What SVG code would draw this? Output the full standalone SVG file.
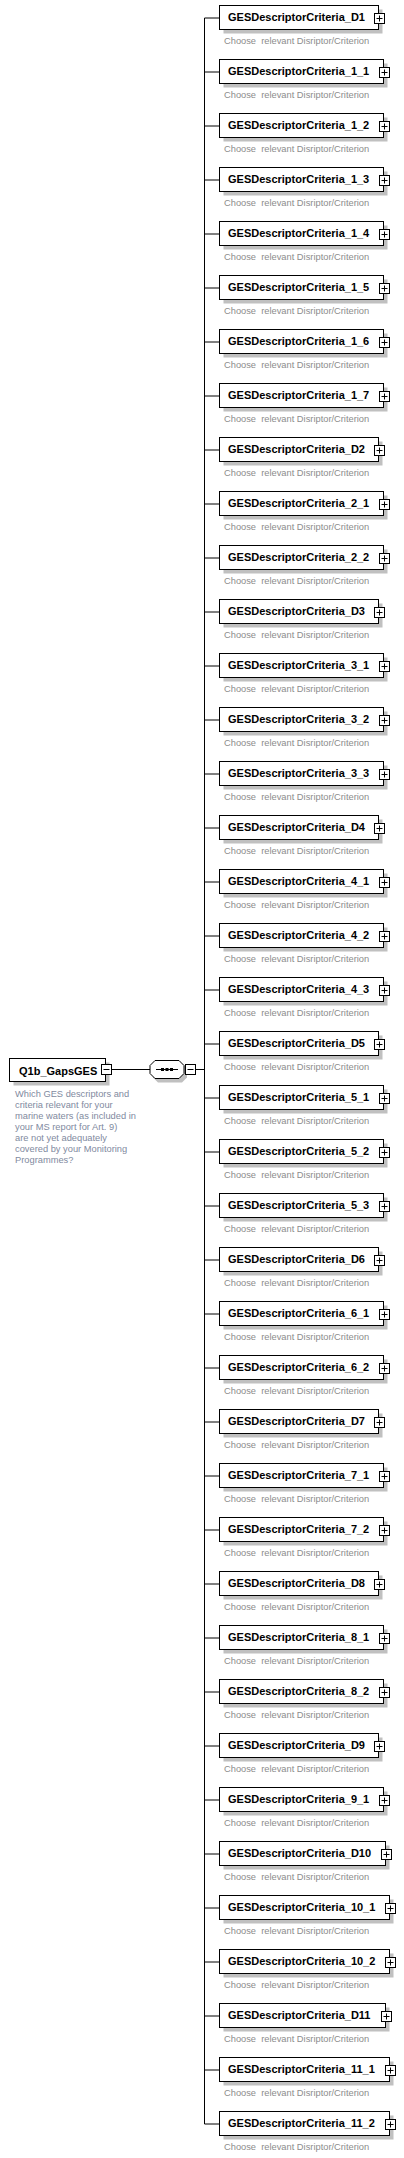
<svg xmlns="http://www.w3.org/2000/svg" xmlns:xlink="http://www.w3.org/1999/xlink" width="404" height="2158" viewBox="0 0 404 2158">
<style>
.box{fill:#fff;stroke:#000;stroke-width:1}
.sh{fill:#c0c0c0}
.t{font-family:"Liberation Sans",Arial,sans-serif;font-size:11px;font-weight:bold;fill:#000}
.d{font-family:"Liberation Sans",Arial,sans-serif;font-size:9.3px;fill:#8c8c8c;white-space:pre}
.rd{font-family:"Liberation Sans",Arial,sans-serif;font-size:9.3px;fill:#7f8aa0}
.ln{fill:none;stroke:#000;stroke-width:1}
</style>
<defs>
<g id="plus"><rect x="0" y="0" width="10" height="10" fill="#fff" stroke="#000"/><path d="M2,5H8M5,2V8" stroke="#000" fill="none"/></g>
<g id="minus"><rect x="0" y="0" width="10" height="10" fill="#fff" stroke="#000"/><path d="M2,5H8" stroke="#000" fill="none"/></g>
</defs>
<g id="connectors" class="ln">
<path d="M111.5,1069.5H150M184,1069.5H204.5"/>
<path d="M204.5,18V2124"/>
<path d="M204.5,18H219M204.5,72H219M204.5,126H219M204.5,180H219M204.5,234H219M204.5,288H219M204.5,342H219M204.5,396H219M204.5,450H219M204.5,504H219M204.5,558H219M204.5,612H219M204.5,666H219M204.5,720H219M204.5,774H219M204.5,828H219M204.5,882H219M204.5,936H219M204.5,990H219M204.5,1044H219M204.5,1098H219M204.5,1152H219M204.5,1206H219M204.5,1260H219M204.5,1314H219M204.5,1368H219M204.5,1422H219M204.5,1476H219M204.5,1530H219M204.5,1584H219M204.5,1638H219M204.5,1692H219M204.5,1746H219M204.5,1800H219M204.5,1854H219M204.5,1908H219M204.5,1962H219M204.5,2016H219M204.5,2070H219M204.5,2124H219"/>
</g>
<g id="root">
<rect class="sh" x="13.5" y="1062.5" width="96" height="23"/>
<rect class="box" x="9.5" y="1058.5" width="96" height="23"/>
<text class="t" x="19" y="1074.5">Q1b_GapsGES</text>
<use xlink:href="#minus" x="101.5" y="1064.5"/>
<text class="rd" x="15" y="1097">Which GES descriptors and</text>
<text class="rd" x="15" y="1108">criteria relevant for your</text>
<text class="rd" x="15" y="1119">marine waters (as included in</text>
<text class="rd" x="15" y="1130">your MS report for Art. 9)</text>
<text class="rd" x="15" y="1141">are not yet adequately</text>
<text class="rd" x="15" y="1152">covered by your Monitoring</text>
<text class="rd" x="15" y="1163">Programmes?</text>
</g>
<g id="sequence">
<path class="sh" d="M158,1063.5H182L187,1068.5V1077.5L182,1082.5H158L153,1077.5V1068.5Z"/>
<path class="box" d="M155,1060.5H179L184,1065.5V1073.5L179,1078.5H155L150,1073.5V1065.5Z"/>
<path class="ln" d="M156,1069.5H178"/>
<rect x="161" y="1068" width="3" height="3" fill="#000"/>
<rect x="165.5" y="1068" width="3" height="3" fill="#000"/>
<rect x="170" y="1068" width="3" height="3" fill="#000"/>
<use xlink:href="#minus" x="185.5" y="1064.5"/>
</g>
<g id="n0" transform="translate(0,5)"><rect class="sh" x="223.5" y="4.5" width="159" height="24"/><rect class="box" x="219.5" y="0.5" width="159" height="24"/><text class="t" x="228" y="16">GESDescriptorCriteria_D1</text><use xlink:href="#plus" x="374.5" y="8.5"/><text class="d" x="224" y="39" xml:space="preserve">Choose  relevant Disriptor/Criterion</text></g>
<g id="n1" transform="translate(0,59)"><rect class="sh" x="223.5" y="4.5" width="164" height="24"/><rect class="box" x="219.5" y="0.5" width="164" height="24"/><text class="t" x="228" y="16">GESDescriptorCriteria_1_1</text><use xlink:href="#plus" x="379.5" y="8.5"/><text class="d" x="224" y="39" xml:space="preserve">Choose  relevant Disriptor/Criterion</text></g>
<g id="n2" transform="translate(0,113)"><rect class="sh" x="223.5" y="4.5" width="164" height="24"/><rect class="box" x="219.5" y="0.5" width="164" height="24"/><text class="t" x="228" y="16">GESDescriptorCriteria_1_2</text><use xlink:href="#plus" x="379.5" y="8.5"/><text class="d" x="224" y="39" xml:space="preserve">Choose  relevant Disriptor/Criterion</text></g>
<g id="n3" transform="translate(0,167)"><rect class="sh" x="223.5" y="4.5" width="164" height="24"/><rect class="box" x="219.5" y="0.5" width="164" height="24"/><text class="t" x="228" y="16">GESDescriptorCriteria_1_3</text><use xlink:href="#plus" x="379.5" y="8.5"/><text class="d" x="224" y="39" xml:space="preserve">Choose  relevant Disriptor/Criterion</text></g>
<g id="n4" transform="translate(0,221)"><rect class="sh" x="223.5" y="4.5" width="164" height="24"/><rect class="box" x="219.5" y="0.5" width="164" height="24"/><text class="t" x="228" y="16">GESDescriptorCriteria_1_4</text><use xlink:href="#plus" x="379.5" y="8.5"/><text class="d" x="224" y="39" xml:space="preserve">Choose  relevant Disriptor/Criterion</text></g>
<g id="n5" transform="translate(0,275)"><rect class="sh" x="223.5" y="4.5" width="164" height="24"/><rect class="box" x="219.5" y="0.5" width="164" height="24"/><text class="t" x="228" y="16">GESDescriptorCriteria_1_5</text><use xlink:href="#plus" x="379.5" y="8.5"/><text class="d" x="224" y="39" xml:space="preserve">Choose  relevant Disriptor/Criterion</text></g>
<g id="n6" transform="translate(0,329)"><rect class="sh" x="223.5" y="4.5" width="164" height="24"/><rect class="box" x="219.5" y="0.5" width="164" height="24"/><text class="t" x="228" y="16">GESDescriptorCriteria_1_6</text><use xlink:href="#plus" x="379.5" y="8.5"/><text class="d" x="224" y="39" xml:space="preserve">Choose  relevant Disriptor/Criterion</text></g>
<g id="n7" transform="translate(0,383)"><rect class="sh" x="223.5" y="4.5" width="164" height="24"/><rect class="box" x="219.5" y="0.5" width="164" height="24"/><text class="t" x="228" y="16">GESDescriptorCriteria_1_7</text><use xlink:href="#plus" x="379.5" y="8.5"/><text class="d" x="224" y="39" xml:space="preserve">Choose  relevant Disriptor/Criterion</text></g>
<g id="n8" transform="translate(0,437)"><rect class="sh" x="223.5" y="4.5" width="159" height="24"/><rect class="box" x="219.5" y="0.5" width="159" height="24"/><text class="t" x="228" y="16">GESDescriptorCriteria_D2</text><use xlink:href="#plus" x="374.5" y="8.5"/><text class="d" x="224" y="39" xml:space="preserve">Choose  relevant Disriptor/Criterion</text></g>
<g id="n9" transform="translate(0,491)"><rect class="sh" x="223.5" y="4.5" width="164" height="24"/><rect class="box" x="219.5" y="0.5" width="164" height="24"/><text class="t" x="228" y="16">GESDescriptorCriteria_2_1</text><use xlink:href="#plus" x="379.5" y="8.5"/><text class="d" x="224" y="39" xml:space="preserve">Choose  relevant Disriptor/Criterion</text></g>
<g id="n10" transform="translate(0,545)"><rect class="sh" x="223.5" y="4.5" width="164" height="24"/><rect class="box" x="219.5" y="0.5" width="164" height="24"/><text class="t" x="228" y="16">GESDescriptorCriteria_2_2</text><use xlink:href="#plus" x="379.5" y="8.5"/><text class="d" x="224" y="39" xml:space="preserve">Choose  relevant Disriptor/Criterion</text></g>
<g id="n11" transform="translate(0,599)"><rect class="sh" x="223.5" y="4.5" width="159" height="24"/><rect class="box" x="219.5" y="0.5" width="159" height="24"/><text class="t" x="228" y="16">GESDescriptorCriteria_D3</text><use xlink:href="#plus" x="374.5" y="8.5"/><text class="d" x="224" y="39" xml:space="preserve">Choose  relevant Disriptor/Criterion</text></g>
<g id="n12" transform="translate(0,653)"><rect class="sh" x="223.5" y="4.5" width="164" height="24"/><rect class="box" x="219.5" y="0.5" width="164" height="24"/><text class="t" x="228" y="16">GESDescriptorCriteria_3_1</text><use xlink:href="#plus" x="379.5" y="8.5"/><text class="d" x="224" y="39" xml:space="preserve">Choose  relevant Disriptor/Criterion</text></g>
<g id="n13" transform="translate(0,707)"><rect class="sh" x="223.5" y="4.5" width="164" height="24"/><rect class="box" x="219.5" y="0.5" width="164" height="24"/><text class="t" x="228" y="16">GESDescriptorCriteria_3_2</text><use xlink:href="#plus" x="379.5" y="8.5"/><text class="d" x="224" y="39" xml:space="preserve">Choose  relevant Disriptor/Criterion</text></g>
<g id="n14" transform="translate(0,761)"><rect class="sh" x="223.5" y="4.5" width="164" height="24"/><rect class="box" x="219.5" y="0.5" width="164" height="24"/><text class="t" x="228" y="16">GESDescriptorCriteria_3_3</text><use xlink:href="#plus" x="379.5" y="8.5"/><text class="d" x="224" y="39" xml:space="preserve">Choose  relevant Disriptor/Criterion</text></g>
<g id="n15" transform="translate(0,815)"><rect class="sh" x="223.5" y="4.5" width="159" height="24"/><rect class="box" x="219.5" y="0.5" width="159" height="24"/><text class="t" x="228" y="16">GESDescriptorCriteria_D4</text><use xlink:href="#plus" x="374.5" y="8.5"/><text class="d" x="224" y="39" xml:space="preserve">Choose  relevant Disriptor/Criterion</text></g>
<g id="n16" transform="translate(0,869)"><rect class="sh" x="223.5" y="4.5" width="164" height="24"/><rect class="box" x="219.5" y="0.5" width="164" height="24"/><text class="t" x="228" y="16">GESDescriptorCriteria_4_1</text><use xlink:href="#plus" x="379.5" y="8.5"/><text class="d" x="224" y="39" xml:space="preserve">Choose  relevant Disriptor/Criterion</text></g>
<g id="n17" transform="translate(0,923)"><rect class="sh" x="223.5" y="4.5" width="164" height="24"/><rect class="box" x="219.5" y="0.5" width="164" height="24"/><text class="t" x="228" y="16">GESDescriptorCriteria_4_2</text><use xlink:href="#plus" x="379.5" y="8.5"/><text class="d" x="224" y="39" xml:space="preserve">Choose  relevant Disriptor/Criterion</text></g>
<g id="n18" transform="translate(0,977)"><rect class="sh" x="223.5" y="4.5" width="164" height="24"/><rect class="box" x="219.5" y="0.5" width="164" height="24"/><text class="t" x="228" y="16">GESDescriptorCriteria_4_3</text><use xlink:href="#plus" x="379.5" y="8.5"/><text class="d" x="224" y="39" xml:space="preserve">Choose  relevant Disriptor/Criterion</text></g>
<g id="n19" transform="translate(0,1031)"><rect class="sh" x="223.5" y="4.5" width="159" height="24"/><rect class="box" x="219.5" y="0.5" width="159" height="24"/><text class="t" x="228" y="16">GESDescriptorCriteria_D5</text><use xlink:href="#plus" x="374.5" y="8.5"/><text class="d" x="224" y="39" xml:space="preserve">Choose  relevant Disriptor/Criterion</text></g>
<g id="n20" transform="translate(0,1085)"><rect class="sh" x="223.5" y="4.5" width="164" height="24"/><rect class="box" x="219.5" y="0.5" width="164" height="24"/><text class="t" x="228" y="16">GESDescriptorCriteria_5_1</text><use xlink:href="#plus" x="379.5" y="8.5"/><text class="d" x="224" y="39" xml:space="preserve">Choose  relevant Disriptor/Criterion</text></g>
<g id="n21" transform="translate(0,1139)"><rect class="sh" x="223.5" y="4.5" width="164" height="24"/><rect class="box" x="219.5" y="0.5" width="164" height="24"/><text class="t" x="228" y="16">GESDescriptorCriteria_5_2</text><use xlink:href="#plus" x="379.5" y="8.5"/><text class="d" x="224" y="39" xml:space="preserve">Choose  relevant Disriptor/Criterion</text></g>
<g id="n22" transform="translate(0,1193)"><rect class="sh" x="223.5" y="4.5" width="164" height="24"/><rect class="box" x="219.5" y="0.5" width="164" height="24"/><text class="t" x="228" y="16">GESDescriptorCriteria_5_3</text><use xlink:href="#plus" x="379.5" y="8.5"/><text class="d" x="224" y="39" xml:space="preserve">Choose  relevant Disriptor/Criterion</text></g>
<g id="n23" transform="translate(0,1247)"><rect class="sh" x="223.5" y="4.5" width="159" height="24"/><rect class="box" x="219.5" y="0.5" width="159" height="24"/><text class="t" x="228" y="16">GESDescriptorCriteria_D6</text><use xlink:href="#plus" x="374.5" y="8.5"/><text class="d" x="224" y="39" xml:space="preserve">Choose  relevant Disriptor/Criterion</text></g>
<g id="n24" transform="translate(0,1301)"><rect class="sh" x="223.5" y="4.5" width="164" height="24"/><rect class="box" x="219.5" y="0.5" width="164" height="24"/><text class="t" x="228" y="16">GESDescriptorCriteria_6_1</text><use xlink:href="#plus" x="379.5" y="8.5"/><text class="d" x="224" y="39" xml:space="preserve">Choose  relevant Disriptor/Criterion</text></g>
<g id="n25" transform="translate(0,1355)"><rect class="sh" x="223.5" y="4.5" width="164" height="24"/><rect class="box" x="219.5" y="0.5" width="164" height="24"/><text class="t" x="228" y="16">GESDescriptorCriteria_6_2</text><use xlink:href="#plus" x="379.5" y="8.5"/><text class="d" x="224" y="39" xml:space="preserve">Choose  relevant Disriptor/Criterion</text></g>
<g id="n26" transform="translate(0,1409)"><rect class="sh" x="223.5" y="4.5" width="159" height="24"/><rect class="box" x="219.5" y="0.5" width="159" height="24"/><text class="t" x="228" y="16">GESDescriptorCriteria_D7</text><use xlink:href="#plus" x="374.5" y="8.5"/><text class="d" x="224" y="39" xml:space="preserve">Choose  relevant Disriptor/Criterion</text></g>
<g id="n27" transform="translate(0,1463)"><rect class="sh" x="223.5" y="4.5" width="164" height="24"/><rect class="box" x="219.5" y="0.5" width="164" height="24"/><text class="t" x="228" y="16">GESDescriptorCriteria_7_1</text><use xlink:href="#plus" x="379.5" y="8.5"/><text class="d" x="224" y="39" xml:space="preserve">Choose  relevant Disriptor/Criterion</text></g>
<g id="n28" transform="translate(0,1517)"><rect class="sh" x="223.5" y="4.5" width="164" height="24"/><rect class="box" x="219.5" y="0.5" width="164" height="24"/><text class="t" x="228" y="16">GESDescriptorCriteria_7_2</text><use xlink:href="#plus" x="379.5" y="8.5"/><text class="d" x="224" y="39" xml:space="preserve">Choose  relevant Disriptor/Criterion</text></g>
<g id="n29" transform="translate(0,1571)"><rect class="sh" x="223.5" y="4.5" width="159" height="24"/><rect class="box" x="219.5" y="0.5" width="159" height="24"/><text class="t" x="228" y="16">GESDescriptorCriteria_D8</text><use xlink:href="#plus" x="374.5" y="8.5"/><text class="d" x="224" y="39" xml:space="preserve">Choose  relevant Disriptor/Criterion</text></g>
<g id="n30" transform="translate(0,1625)"><rect class="sh" x="223.5" y="4.5" width="164" height="24"/><rect class="box" x="219.5" y="0.5" width="164" height="24"/><text class="t" x="228" y="16">GESDescriptorCriteria_8_1</text><use xlink:href="#plus" x="379.5" y="8.5"/><text class="d" x="224" y="39" xml:space="preserve">Choose  relevant Disriptor/Criterion</text></g>
<g id="n31" transform="translate(0,1679)"><rect class="sh" x="223.5" y="4.5" width="164" height="24"/><rect class="box" x="219.5" y="0.5" width="164" height="24"/><text class="t" x="228" y="16">GESDescriptorCriteria_8_2</text><use xlink:href="#plus" x="379.5" y="8.5"/><text class="d" x="224" y="39" xml:space="preserve">Choose  relevant Disriptor/Criterion</text></g>
<g id="n32" transform="translate(0,1733)"><rect class="sh" x="223.5" y="4.5" width="159" height="24"/><rect class="box" x="219.5" y="0.5" width="159" height="24"/><text class="t" x="228" y="16">GESDescriptorCriteria_D9</text><use xlink:href="#plus" x="374.5" y="8.5"/><text class="d" x="224" y="39" xml:space="preserve">Choose  relevant Disriptor/Criterion</text></g>
<g id="n33" transform="translate(0,1787)"><rect class="sh" x="223.5" y="4.5" width="164" height="24"/><rect class="box" x="219.5" y="0.5" width="164" height="24"/><text class="t" x="228" y="16">GESDescriptorCriteria_9_1</text><use xlink:href="#plus" x="379.5" y="8.5"/><text class="d" x="224" y="39" xml:space="preserve">Choose  relevant Disriptor/Criterion</text></g>
<g id="n34" transform="translate(0,1841)"><rect class="sh" x="223.5" y="4.5" width="166" height="24"/><rect class="box" x="219.5" y="0.5" width="166" height="24"/><text class="t" x="228" y="16">GESDescriptorCriteria_D10</text><use xlink:href="#plus" x="381.5" y="8.5"/><text class="d" x="224" y="39" xml:space="preserve">Choose  relevant Disriptor/Criterion</text></g>
<g id="n35" transform="translate(0,1895)"><rect class="sh" x="223.5" y="4.5" width="170" height="24"/><rect class="box" x="219.5" y="0.5" width="170" height="24"/><text class="t" x="228" y="16">GESDescriptorCriteria_10_1</text><use xlink:href="#plus" x="385.5" y="8.5"/><text class="d" x="224" y="39" xml:space="preserve">Choose  relevant Disriptor/Criterion</text></g>
<g id="n36" transform="translate(0,1949)"><rect class="sh" x="223.5" y="4.5" width="170" height="24"/><rect class="box" x="219.5" y="0.5" width="170" height="24"/><text class="t" x="228" y="16">GESDescriptorCriteria_10_2</text><use xlink:href="#plus" x="385.5" y="8.5"/><text class="d" x="224" y="39" xml:space="preserve">Choose  relevant Disriptor/Criterion</text></g>
<g id="n37" transform="translate(0,2003)"><rect class="sh" x="223.5" y="4.5" width="166" height="24"/><rect class="box" x="219.5" y="0.5" width="166" height="24"/><text class="t" x="228" y="16">GESDescriptorCriteria_D11</text><use xlink:href="#plus" x="381.5" y="8.5"/><text class="d" x="224" y="39" xml:space="preserve">Choose  relevant Disriptor/Criterion</text></g>
<g id="n38" transform="translate(0,2057)"><rect class="sh" x="223.5" y="4.5" width="170" height="24"/><rect class="box" x="219.5" y="0.5" width="170" height="24"/><text class="t" x="228" y="16">GESDescriptorCriteria_11_1</text><use xlink:href="#plus" x="385.5" y="8.5"/><text class="d" x="224" y="39" xml:space="preserve">Choose  relevant Disriptor/Criterion</text></g>
<g id="n39" transform="translate(0,2111)"><rect class="sh" x="223.5" y="4.5" width="170" height="24"/><rect class="box" x="219.5" y="0.5" width="170" height="24"/><text class="t" x="228" y="16">GESDescriptorCriteria_11_2</text><use xlink:href="#plus" x="385.5" y="8.5"/><text class="d" x="224" y="39" xml:space="preserve">Choose  relevant Disriptor/Criterion</text></g>
</svg>
